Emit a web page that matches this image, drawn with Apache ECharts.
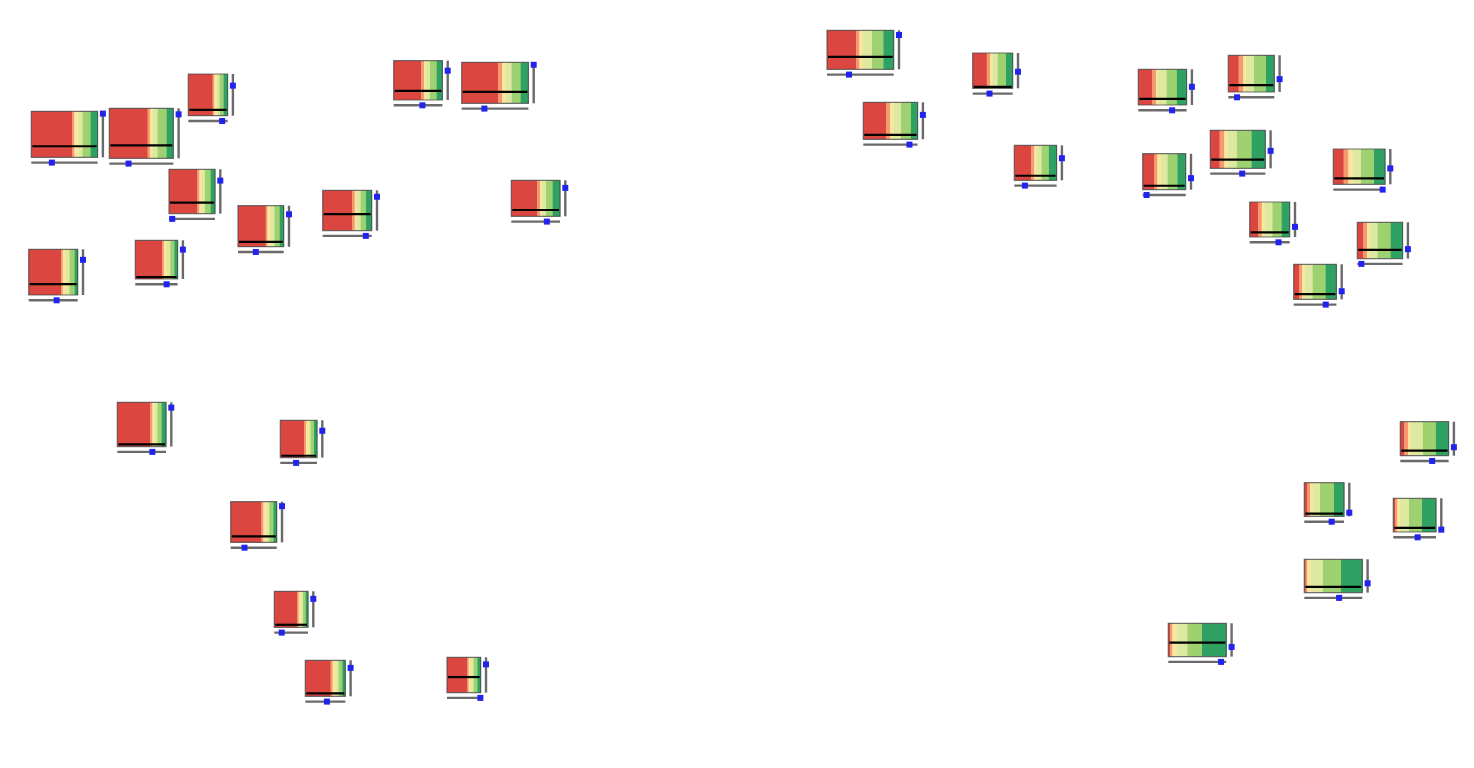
<!DOCTYPE html>
<html>
<head>
<meta charset="utf-8">
<script src="https://cdn.jsdelivr.net/npm/echarts@6/dist/echarts.min.js"></script>
<style>html,body{margin:0;padding:0;background:#fff}#chart{width:1474px;height:768px}</style>
</head>
<body>
<div id="chart"></div>
<script>
// Glyph anchor (top-left) and size, in chart units
const glyphX = [31.3,109.3,188.3,169,238,135.3,28.7,393.7,461.7,322.7,511.3,
  117.3,280.3,230.7,274.3,305.3,447,
  827,972.7,863.3,1014.3,1138.3,1228.3,1210.3,1142.7,1333.3,1249.7,1357.3,1293.7,
  1400.3,1304.3,1393.3,1304.3,1168.3];
const glyphY = [111.3,108.3,74,169.3,205.7,240.3,249.3,60.7,62.3,190.3,180.3,
  402.3,420.3,501.7,591.3,660.3,657.3,
  30.3,53,102.3,145.3,69.3,55.3,130.3,153.7,149,202,222.3,264.3,
  421.7,482.7,498.3,559.3,623.3];
const glyphW = [66.3,64,39.3,46,45.7,42.3,49,48.7,66.7,49,48.7,
  48.7,36.7,46,33.7,40,33.7,
  66.7,40,54.3,42.3,48.3,46,55,43,51.7,40,45.3,42.7,
  48.3,39.7,42.7,58,58];
const glyphH = [46,50,41.7,44.3,41,38.7,45.7,39.3,41,40.3,36,
  44.3,37.3,40.7,36,36,35.3,
  39,35.3,37,35,35.7,36.7,38,36,35.3,35,36.3,35,
  34,33.7,33.7,33.3,33.3];
// Shares of the six classes (red -> dark green)
const shareRed = [41,38.3,24.3,28.3,27.7,27,32.3,27.3,36.3,29.3,25.7,
  32.7,23.7,30.7,23,25.3,20.3,
  29,14,22.7,16.7,14,10.3,9.3,11.3,10.3,8.3,6,5.3,
  4,2.7,1.7,1.3,1.7];
const shareSalmon = [2,2.3,1.5,2,1.7,1.5,1.7,3,4,2.7,3,
  2.3,2,2,1.3,2,1.3,
  3.3,3.3,4,3.3,3.7,4.7,4.7,3.3,4.7,3.7,3.7,3,
  3.7,3,2.3,1.7,2.3];
const shareYellow = [4,2.7,2.5,2.3,3.3,3,3,1.7,3.3,2,1.7,
  2,2.7,3,2,3,2.3,
  3.3,2.3,3.3,2.3,1.7,2.7,3.3,3.3,4.3,3,2.3,2.3,
  2.7,2.7,2.7,3.3,4.3];
const sharePaleGreen = [4.3,5,3,3.3,3.7,3.5,4,4.3,6.3,4,4.3,
  3,2,3,2.3,3,2.7,
  9.3,5.3,7.7,5,9,8,9.3,7,8.3,7.7,8.3,8.3,
  12.3,7.3,9,12.3,10.7];
const shareGreen = [8,9,4,5.7,5.3,4,5,6.7,9,5.3,6.7,
  4.3,3.3,4,2.7,3.7,3.7,
  11.3,8.3,10,7.3,10.3,12,14.7,9.7,13,9.3,13,13,
  13,14,13,18,14.7];
const shareDarkGreen = [7,6.7,4,4.3,4,3.3,3,5.7,7.7,5.7,7.3,
  4.3,3,3.3,2.3,3,3.3,
  10.3,6.7,6.7,7.7,9.7,8.3,13.7,8.3,11,8,12,10.7,
  12.7,10,14,21.3,24.3];
// Indicator levels (0..1)
const lineLevel = [0.24,0.26,0.14,0.25,0.12,0.05,0.24,0.23,0.28,0.41,0.175,
  0.05,0.05,0.15,0.07,0.08,0.44,
  0.32,0.04,0.12,0.13,0.17,0.19,0.23,0.11,0.17,0.13,0.24,0.15,
  0.15,0.08,0.12,0.17,0.42];
const hMarker = [0.31,0.30,0.86,0.07,0.39,0.74,0.57,0.59,0.34,0.88,0.73,
  0.72,0.43,0.30,0.22,0.54,0.99,
  0.33,0.42,0.85,0.25,0.70,0.19,0.58,0.09,0.955,0.72,0.09,0.75,
  0.66,0.69,0.57,0.60,0.91];
const vMarker = [0.95,0.88,0.72,0.745,0.79,0.76,0.77,0.745,0.94,0.84,0.79,
  0.88,0.72,0.89,0.79,0.79,0.80,
  0.88,0.47,0.66,0.63,0.51,0.35,0.46,0.32,0.45,0.29,0.26,0.23,
  0.25,0.11,0.07,0.28,0.29];

const stripeColors = ['#dc4640','#f59a6e','#fce59c','#dfe8a0','#9ed170','#2fa163'];

const data = glyphX.map((x, i) => [x, glyphY[i], glyphW[i], glyphH[i],
  shareRed[i], shareSalmon[i], shareYellow[i], sharePaleGreen[i], shareGreen[i], shareDarkGreen[i],
  lineLevel[i], hMarker[i], vMarker[i]]);

function renderItem(params, api) {
  const p = api.coord([api.value(0), api.value(1)]);
  const sz = api.size([api.value(2), api.value(3)]);
  const x0 = p[0], y0 = p[1], W = sz[0], H = sz[1];
  const shares = [4,5,6,7,8,9].map(k => api.value(k));
  const total = shares.reduce((a, b) => a + b, 0);
  const children = [];
  let cx = x0;
  shares.forEach((s, k) => {
    const w = W * s / total;
    children.push({type: 'rect', shape: {x: cx, y: y0, width: w + 0.3, height: H},
      style: {fill: stripeColors[k]}});
    cx += w;
  });
  children.push({type: 'rect', shape: {x: x0, y: y0, width: W, height: H},
    style: {fill: null, stroke: 'rgba(70,70,70,0.75)', lineWidth: 1.2}});
  const ly = y0 + H * (1 - api.value(10));
  children.push({type: 'line', shape: {x1: x0 + 1, y1: ly, x2: x0 + W - 1, y2: ly},
    style: {stroke: '#000', lineWidth: 2.2}});
  const hy = y0 + H + 5.3;
  children.push({type: 'line', shape: {x1: x0, y1: hy, x2: x0 + W, y2: hy},
    style: {stroke: 'rgba(90,90,90,0.9)', lineWidth: 2.4}});
  const hx = x0 + W * api.value(11);
  children.push({type: 'rect', shape: {x: hx - 3, y: hy - 3, width: 6, height: 6},
    style: {fill: '#2323ee'}});
  const vx = x0 + W + 5.3;
  children.push({type: 'line', shape: {x1: vx, y1: y0, x2: vx, y2: y0 + H},
    style: {stroke: 'rgba(90,90,90,0.9)', lineWidth: 2.4}});
  const vy = y0 + H * (1 - api.value(12));
  children.push({type: 'rect', shape: {x: vx - 3, y: vy - 3, width: 6, height: 6},
    style: {fill: '#2323ee'}});
  return {type: 'group', children: children};
}

const chart = echarts.init(document.getElementById('chart'), null, {renderer: 'canvas'});
chart.setOption({
  animation: false,
  backgroundColor: '#ffffff',
  grid: {left: 0, right: 0, top: 0, bottom: 0},
  xAxis: {type: 'value', min: 0, max: 1474, show: false},
  yAxis: {type: 'value', min: 0, max: 768, inverse: true, show: false},
  series: [{
    type: 'custom',
    renderItem: renderItem,
    encode: {x: 0, y: 1},
    data: data,
    clip: false
  }]
});
</script>
</body>
</html>
